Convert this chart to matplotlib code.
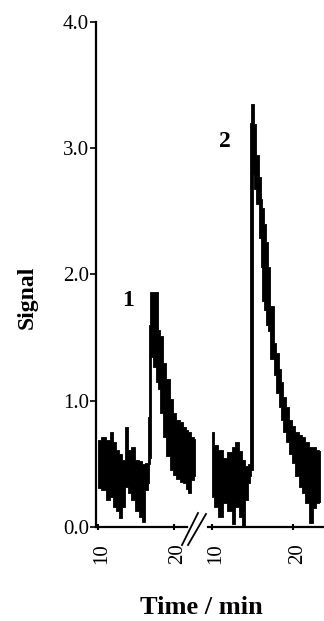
import matplotlib

matplotlib.use("Agg")
import matplotlib.pyplot as plt
from matplotlib.lines import Line2D
from matplotlib.transforms import ScaledTranslation

# values: envelope (min / max) of the noisy trace
seg1_t = [10.0, 10.7, 11.3, 11.8, 12.2, 12.6, 12.9, 13.3, 13.8, 14.2,
          14.6, 15.1, 15.8, 15.9, 16.45, 16.6, 16.8, 16.9, 17.1, 17.5,
          17.8, 17.9, 18.4, 18.8, 19.2, 19.7, 20.1, 20.5, 21.1, 21.4,
          21.7, 22.1, 22.5, 22.8]
seg1_lo = [0.31, 0.29, 0.21, 0.24, 0.16, 0.13, 0.07, 0.16, 0.32, 0.27,
           0.21, 0.13, 0.08, 0.04, 0.29, 0.35, 0.50, 0.55, 1.35, 1.27,
           1.15, 1.09, 0.90, 0.71, 0.56, 0.45, 0.41, 0.38, 0.36, 0.35,
           0.30, 0.27, 0.37, 0.40]
seg1_hi = [0.69, 0.71, 0.69, 0.75, 0.67, 0.61, 0.58, 0.53, 0.79, 0.61,
           0.63, 0.53, 0.52, 0.50, 0.51, 0.87, 1.60, 1.86, 1.86, 1.86,
           1.86, 1.56, 1.51, 1.30, 1.17, 1.01, 0.90, 0.85, 0.83, 0.79,
           0.77, 0.75, 0.71, 0.70]

seg2_t = [10.0, 10.4, 11.0, 11.6, 12.2, 12.6, 13.1, 13.5, 13.8, 14.3,
          14.6, 14.7, 14.9, 15.1, 15.3, 15.6, 15.9, 16.1, 16.3, 16.5,
          16.8, 16.9, 17.4, 17.8, 18.0, 18.4, 18.6, 19.0, 19.3, 19.6,
          20.0, 20.5, 20.9, 21.2, 21.7, 22.3, 22.5, 23.1, 23.3]
seg2_lo = [0.24, 0.16, 0.08, 0.19, 0.13, 0.02, 0.16, 0.08, 0.00, 0.21,
           0.35, 0.40, 0.45, 2.79, 2.68, 2.56, 2.29, 2.06, 1.79, 1.72,
           1.60, 1.55, 1.33, 1.20, 1.06, 0.95, 0.85, 0.75, 0.67, 0.58,
           0.51, 0.40, 0.32, 0.27, 0.19, 0.03, 0.15, 0.19, 0.20]
seg2_hi = [0.75, 0.65, 0.61, 0.55, 0.59, 0.63, 0.67, 0.60, 0.53, 0.48,
           0.50, 3.20, 3.35, 3.35, 3.19, 2.95, 2.77, 2.60, 2.53, 2.40,
           2.26, 2.06, 1.75, 1.46, 1.38, 1.25, 1.15, 1.03, 0.95, 0.85,
           0.80, 0.75, 0.73, 0.71, 0.67, 0.63, 0.63, 0.61, 0.60]

y_ticks = [0.0, 1.0, 2.0, 3.0, 4.0]
x_ticks = [10, 20]
peak_labels = [("1", 13.9, 1.79), ("2", 11.6, 3.05)]

plt.rcParams["font.family"] = ["Liberation Serif", "DejaVu Serif"]

fig = plt.figure(figsize=(3.24, 6.21), dpi=100)
ax1 = fig.add_axes([0.2963, 0.1514, 0.3086, 0.8132])
ax2 = fig.add_axes([0.642, 0.1514, 0.358, 0.8132])

ax1.fill_between(seg1_t, seg1_lo, seg1_hi, step="mid", color="black", lw=0.6)
ax2.fill_between(seg2_t, seg2_lo, seg2_hi, step="mid", color="black", lw=0.6)

shift = ScaledTranslation(4 / 100, 0, fig.dpi_scale_trans)
ax1.set_xlim(9.74, 22.9)
ax2.set_xlim(9.5, 23.8)
for ax in (ax1, ax2):
    ax.set_ylim(0, 4.0)
    ax.set_xticks(x_ticks)
    ax.set_xticklabels([str(t) for t in x_ticks], rotation=90, fontsize=15)
    ax.tick_params(axis="x", direction="inout", length=4, width=1.5, pad=10)
    for lab in ax.get_xticklabels():
        lab.set_transform(lab.get_transform() + shift)
    ax.spines["top"].set_visible(False)
    ax.spines["right"].set_visible(False)
    ax.spines["bottom"].set_linewidth(1.6)
    ax.patch.set_alpha(0)

ax1.spines["bottom"].set_bounds(9.74, 21.7)
ax1.spines["left"].set_linewidth(1.6)
ax1.set_yticks(y_ticks)
ax1.set_yticklabels([f"{v:.1f}" for v in y_ticks], fontsize=15)
ax1.tick_params(axis="y", direction="out", length=4, width=1.2, pad=1)

ax2.spines["left"].set_visible(False)
ax2.set_yticks([])

ax1.text(peak_labels[0][1], peak_labels[0][2], peak_labels[0][0],
         fontsize=17, fontweight="bold", ha="center", va="center")
ax2.text(peak_labels[1][1], peak_labels[1][2], peak_labels[1][0],
         fontsize=17, fontweight="bold", ha="center", va="center")

# axis break marks
W, H = 324.0, 621.0
for (x0, y0, x1, y1) in [(182, 545, 198, 513), (188, 545, 206, 514)]:
    fig.add_artist(Line2D([x0 / W, x1 / W], [1 - y0 / H, 1 - y1 / H],
                          transform=fig.transFigure, color="black", lw=1.3))

fig.text(0.083, 0.522, "Signal", rotation=90, fontsize=17, fontweight="bold",
         ha="center", va="center")
fig.text(0.62, 0.022, "Time / min", fontsize=19, fontweight="bold",
         ha="center", va="center")

fig.savefig("out.png", dpi=100)
